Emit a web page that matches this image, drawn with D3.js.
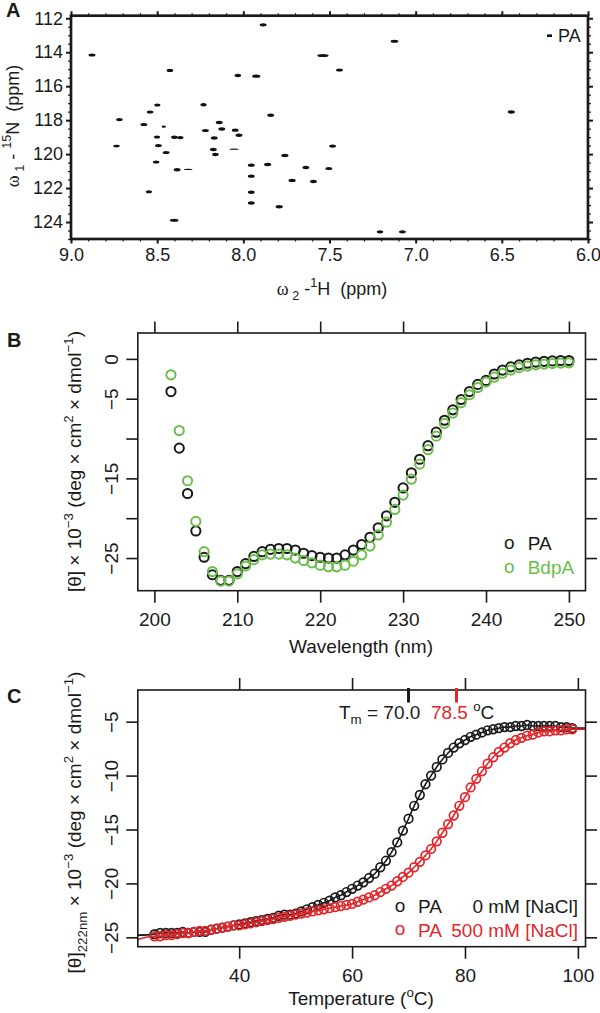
<!DOCTYPE html>
<html>
<head>
<meta charset="utf-8">
<script src="https://cdn.jsdelivr.net/npm/d3@7"></script>
<style>
  body { margin: 0; background: #fff; }
  svg { display: block; font-family: "Liberation Sans", Arial, sans-serif; }
  text { white-space: pre; }
</style>
</head>
<body>
<svg id="chart" width="600" height="1013"></svg>
<script>
// ---- panel A: HSQC peak list (1H ppm, 15N ppm, linewidths in ppm)
const peakH = [8.878, 7.885, 7.123, 7.538, 8.426, 7.442, 8.032, 7.925, 6.445, 8.499,
               8.231, 8.541, 8.719, 8.577, 8.462, 7.841, 8.140, 8.125, 8.220, 8.047,
               8.025, 8.501, 8.400, 8.366, 8.169, 8.736, 8.493, 8.174, 8.054, 8.162,
               8.448, 7.482, 7.759, 8.506, 7.954, 7.859, 8.384, 8.320, 7.637, 7.504,
               7.954, 7.717, 7.593, 8.548, 7.954, 7.954, 7.792, 8.401, 7.207, 7.077];
const peakN = [114.17, 112.39, 113.35, 114.19, 115.07, 115.05, 115.37, 115.41, 117.52, 117.11,
               117.09, 117.52, 117.97, 118.26, 118.38, 117.71, 118.14, 118.52, 118.61, 118.59,
               118.89, 118.99, 119.01, 119.03, 119.05, 119.53, 119.50, 119.73, 119.71, 120.02,
               119.91, 119.53, 120.08, 120.47, 120.65, 120.61, 120.92, 120.90, 120.79, 120.85,
               121.30, 121.55, 121.61, 122.22, 122.25, 122.88, 123.10, 123.90, 124.58, 124.58];
const widthH = [0.040, 0.040, 0.045, 0.065, 0.038, 0.040, 0.038, 0.048, 0.042, 0.035,
                0.036, 0.038, 0.038, 0.040, 0.025, 0.040, 0.040, 0.040, 0.040, 0.040,
                0.040, 0.035, 0.038, 0.038, 0.040, 0.038, 0.040, 0.040, 0.055, 0.038,
                0.040, 0.040, 0.042, 0.038, 0.040, 0.042, 0.040, 0.050, 0.040, 0.040,
                0.040, 0.042, 0.040, 0.035, 0.040, 0.040, 0.042, 0.050, 0.038, 0.040];
const widthN = [0.18, 0.18, 0.18, 0.18, 0.18, 0.18, 0.2, 0.2, 0.2, 0.18,
                0.2, 0.18, 0.2, 0.18, 0.14, 0.2, 0.2, 0.2, 0.18, 0.2,
                0.2, 0.18, 0.2, 0.2, 0.2, 0.16, 0.18, 0.2, 0.08, 0.2,
                0.18, 0.2, 0.2, 0.18, 0.2, 0.2, 0.2, 0.08, 0.2, 0.18,
                0.2, 0.2, 0.2, 0.18, 0.2, 0.2, 0.2, 0.18, 0.2, 0.2];
const ticksH = [9.0, 8.5, 8.0, 7.5, 7.0, 6.5, 6.0];
const ticksN = [112, 114, 116, 118, 120, 122, 124];

// ---- panel B: far-UV CD spectra
const wavelength = [202, 203, 204, 205, 206, 207, 208, 209, 210, 211, 212, 213, 214, 215, 216, 217,
                    218, 219, 220, 221, 222, 223, 224, 225, 226, 227, 228, 229, 230, 231, 232, 233,
                    234, 235, 236, 237, 238, 239, 240, 241, 242, 243, 244, 245, 246, 247, 248, 249, 250];
const cdPA = [-4.1, -11.2, -16.9, -21.6, -24.9, -27.1, -27.8, -27.8, -26.7, -25.7, -24.8, -24.2,
              -23.9, -23.8, -23.8, -24.0, -24.4, -24.7, -24.9, -25.0, -25.0, -24.6, -24.0, -23.3,
              -22.4, -21.2, -19.7, -18.0, -16.2, -14.3, -12.6, -10.9, -9.2, -7.7, -6.4, -5.1,
              -4.1, -3.2, -2.7, -1.9, -1.4, -1.0, -0.75, -0.55, -0.4, -0.3, -0.25, -0.2, -0.2];
const cdBdpA = [-2.0, -9.0, -15.3, -20.4, -24.2, -26.7, -27.9, -27.9, -27.0, -26.0, -25.2, -24.6,
                -24.5, -24.5, -24.6, -25.0, -25.3, -25.6, -25.9, -26.1, -26.1, -25.9, -25.4, -24.6,
                -23.5, -22.1, -20.5, -18.9, -17.1, -15.1, -13.2, -11.4, -9.7, -8.1, -6.8, -5.5,
                -4.5, -3.6, -2.9, -2.3, -1.8, -1.4, -1.1, -0.9, -0.75, -0.65, -0.58, -0.52, -0.5];
const wlTicks = [200, 210, 220, 230, 240, 250];
const cdTicks = [0, -5, -10, -15, -20, -25];
const cdLabels = [0, -5, -15, -25];

// ---- panel C: thermal melts at 222 nm
const temperature = [25, 26, 27, 28, 29, 30, 31, 32, 33, 34, 35, 36, 37, 38, 39, 40, 41, 42, 43, 44,
                     45, 46, 47, 48, 49, 50, 51, 52, 53, 54, 55, 56, 57, 58, 59, 60, 61, 62, 63, 64,
                     65, 66, 67, 68, 69, 70, 71, 72, 73, 74, 75, 76, 77, 78, 79, 80, 81, 82, 83, 84,
                     85, 86, 87, 88, 89, 90, 91, 92, 93, 94, 95, 96, 97, 98, 99];
const meltPA = [-24.7, -24.6, -24.6, -24.6, -24.6, -24.5, -24.6, -24.5, -24.5, -24.5,
                -24.3, -24.2, -24.1, -24.0, -23.9, -23.8, -23.7, -23.6, -23.5, -23.4,
                -23.3, -23.2, -23.0, -22.9, -22.9, -22.8, -22.6, -22.4, -22.2, -22.0,
                -21.8, -21.6, -21.3, -21.1, -20.8, -20.5, -20.2, -19.9, -19.5, -19.1,
                -18.5, -17.9, -17.1, -16.2, -15.1, -14.0, -12.8, -11.8, -10.8, -10.0,
                -9.2, -8.5, -7.9, -7.4, -7.0, -6.7, -6.4, -6.2, -6.0, -5.8,
                -5.7, -5.6, -5.5, -5.5, -5.4, -5.4, -5.3, -5.4, -5.4, -5.4,
                -5.4, -5.4, -5.5, -5.5, -5.6];
const meltSalt = [-24.9, -24.9, -24.8, -24.8, -24.7, -24.6, -24.6, -24.5, -24.4, -24.4,
                  -24.3, -24.2, -24.1, -24.0, -23.9, -23.9, -23.8, -23.7, -23.6, -23.5,
                  -23.4, -23.3, -23.2, -23.1, -23.0, -22.9, -22.8, -22.7, -22.6, -22.5,
                  -22.4, -22.3, -22.2, -22.1, -22.0, -21.9, -21.7, -21.5, -21.3, -21.1,
                  -20.8, -20.5, -20.2, -19.8, -19.4, -19.0, -18.5, -18.0, -17.4, -16.8,
                  -16.1, -15.3, -14.5, -13.7, -12.8, -12.0, -11.1, -10.3, -9.6, -8.9,
                  -8.3, -7.8, -7.4, -7.0, -6.7, -6.5, -6.3, -6.2, -6.0, -5.9,
                  -5.9, -5.8, -5.8, -5.7, -5.7];
// fitted curves reach the frame edges
const fitEndT = [22.04, 101.35];
const fitEndPA = [-24.8, -5.6];
const fitEndSalt = [-25.2, -5.7];
const tm = [70.0, 78.5];
const tempTicks = [40, 60, 80, 100];
const meltTicks = [-5, -10, -15, -20, -25];

const ink = '#1a1a1a';
const green = '#6cbd4b';
const red = '#e3262b';
const fmt = d3.format('d');

const svg = d3.select('#chart');

function frame(g, x, y, w) {
    const [x0, x1] = x.range();
    const [y0, y1] = y.range();
    g.append('rect')
        .attr('x', Math.min(x0, x1)).attr('y', Math.min(y0, y1))
        .attr('width', Math.abs(x1 - x0)).attr('height', Math.abs(y1 - y0))
        .attr('fill', 'none').attr('stroke', ink).attr('stroke-width', w);
}

function axisAt(g, axis, tx, ty, size, sw) {
    const a = g.append('g').attr('transform', `translate(${tx},${ty})`).call(axis);
    a.select('.domain').remove();
    a.attr('font-family', null).attr('font-size', size);
    a.selectAll('.tick line').attr('stroke', ink).attr('stroke-width', sw);
    a.selectAll('.tick text').attr('fill', ink);
    return a;
}

// parts: [{t, sup, sub, fill, font}]
function rich(sel, parts, size) {
    let shift = 0;
    parts.forEach((p) => {
        const target = p.sup ? -0.42 * size : p.sub ? 0.3 * size : 0;
        const ts = sel.append('tspan').text(p.t).attr('dy', target - shift);
        if (p.sup || p.sub) ts.attr('font-size', size * 0.7);
        if (p.fill) ts.attr('fill', p.fill);
        if (p.font) ts.attr('font-family', p.font);
        shift = target;
    });
}

function leftLabelsRotated(a, offset) {
    a.selectAll('.tick text')
        .attr('transform', 'rotate(-90)')
        .attr('x', 0).attr('y', -offset).attr('dy', 0)
        .attr('text-anchor', 'middle');
}

// ================= Panel A =================
{
    const x = d3.scaleLinear().domain([9.0, 6.0]).range([71, 588]);
    const y = d3.scaleLinear().domain([111.85, 125]).range([15.7, 239]);
    const g = svg.append('g');
    const [, yb] = y.range();
    const minorH = x.ticks(30);
    const minorN = y.ticks(26);

    axisAt(g, d3.axisBottom(x).tickValues(minorH).tickSize(2.5).tickFormat(''), 0, yb, 18, 1.2);
    axisAt(g, d3.axisTop(x).tickValues(minorH).tickSize(2.5).tickFormat(''), 0, 15.7, 18, 1.2);
    axisAt(g, d3.axisLeft(y).tickValues(minorN).tickSize(3).tickFormat(''), 71, 0, 18, 1.2);
    axisAt(g, d3.axisRight(y).tickValues(minorN).tickSize(3).tickFormat(''), 588, 0, 18, 1.2);
    axisAt(g, d3.axisBottom(x).tickValues(ticksH).tickSize(4.5).tickPadding(5).tickFormat(d3.format('.1f')), 0, yb, 18, 2);
    axisAt(g, d3.axisTop(x).tickValues(ticksH).tickSize(4.5).tickFormat(''), 0, 15.7, 18, 2);
    axisAt(g, d3.axisLeft(y).tickValues(ticksN).tickSize(5).tickPadding(3).tickFormat(fmt), 71, 0, 18, 2);
    axisAt(g, d3.axisRight(y).tickValues(ticksN).tickSize(5).tickFormat(''), 588, 0, 18, 2);

    g.append('g').selectAll('ellipse')
        .data(peakH.map((h, i) => ({ h, n: peakN[i], wh: widthH[i], wn: widthN[i] })))
        .join('ellipse')
        .attr('cx', (d) => x(d.h))
        .attr('cy', (d) => y(d.n))
        .attr('rx', (d) => Math.abs(x(d.h + d.wh / 2) - x(d.h)))
        .attr('ry', (d) => Math.abs(y(d.n + d.wn / 2) - y(d.n)))
        .attr('fill', '#111');

    frame(g, x, y, 2.7);

    g.append('rect').attr('x', 547).attr('y', 34.4).attr('width', 5).attr('height', 2.6).attr('fill', '#111');
    g.append('text').attr('x', 558).attr('y', 42.3).attr('font-size', 18).attr('fill', ink).text('PA');

    const xt = g.append('text').attr('x', 332).attr('y', 295).attr('font-size', 18)
        .attr('text-anchor', 'middle').attr('fill', ink);
    rich(xt, [{ t: 'ω', font: '"Liberation Serif", serif' }, { t: ' 2', sub: true }, { t: ' -' },
              { t: '1', sup: true }, { t: 'H  (ppm)' }], 18);

    const yt = g.append('text').attr('transform', 'translate(19,126) rotate(-90)').attr('font-size', 18)
        .attr('text-anchor', 'middle').attr('fill', ink);
    rich(yt, [{ t: 'ω', font: '"Liberation Serif", serif' }, { t: ' 1', sub: true }, { t: ' - ' },
              { t: '15', sup: true }, { t: 'N  (ppm)' }], 18);

    g.append('text').attr('x', 6).attr('y', 17).attr('font-size', 20).attr('font-weight', 'bold')
        .attr('fill', ink).text('A');
}

// ================= Panel B =================
{
    const x = d3.scaleLinear().domain([198, 252]).range([137.8, 585.5]);
    const y = d3.scaleLinear().domain([-29.1, 3.25]).range([590.7, 333]);
    const g = svg.append('g');
    const fs = 19;

    axisAt(g, d3.axisBottom(x).tickValues(wlTicks).tickSize(12).tickPadding(10).tickFormat(fmt), 0, 590.7, fs, 1.6);
    axisAt(g, d3.axisTop(x).tickValues(wlTicks).tickSize(11.5).tickFormat(''), 0, 333, fs, 1.6);
    const left = axisAt(g, d3.axisLeft(y).tickValues(cdTicks).tickSize(11.5)
        .tickFormat((d) => (cdLabels.includes(d) ? d3.format('d')(d) : '')), 137.8, 0, fs, 1.6);
    leftLabelsRotated(left, 19.5);
    axisAt(g, d3.axisRight(y).tickValues(cdTicks).tickSize(11.5).tickFormat(''), 585.5, 0, fs, 1.6);

    const series = [
        { vals: cdPA, color: ink },
        { vals: cdBdpA, color: green }
    ];
    series.forEach((s) => {
        g.append('g').selectAll('circle')
            .data(wavelength.map((w, i) => [w, s.vals[i]]))
            .join('circle')
            .attr('cx', (d) => x(d[0]))
            .attr('cy', (d) => y(d[1]))
            .attr('r', 4.6)
            .attr('fill', 'none')
            .attr('stroke', s.color)
            .attr('stroke-width', 2);
    });

    frame(g, x, y, 1.6);

    const leg = [{ label: 'PA', color: ink, yb: 550 }, { label: 'BdpA', color: green, yb: 574 }];
    leg.forEach((l) => {
        g.append('text').attr('x', 509.3).attr('y', l.yb - 1.5).attr('text-anchor', 'middle')
            .attr('font-size', fs).attr('fill', l.color).text('o');
        g.append('text').attr('x', 527.7).attr('y', l.yb).attr('font-size', fs).attr('fill', l.color).text(l.label);
    });

    g.append('text').attr('x', 361).attr('y', 653).attr('font-size', fs).attr('text-anchor', 'middle')
        .attr('fill', ink).text('Wavelength (nm)');

    const yt = g.append('text').attr('transform', 'translate(81,461.5) rotate(-90)').attr('font-size', fs)
        .attr('text-anchor', 'middle').attr('fill', ink);
    rich(yt, [{ t: '[θ] × 10' }, { t: '−3', sup: true }, { t: ' (deg × cm' }, { t: '2', sup: true },
              { t: ' × dmol' }, { t: '−1', sup: true }, { t: ')' }], fs);

    g.append('text').attr('x', 7).attr('y', 347).attr('font-size', 20).attr('font-weight', 'bold')
        .attr('fill', ink).text('B');
}

// ================= Panel C =================
{
    const x = d3.scaleLinear().domain([22.04, 101.35]).range([137.8, 585.5]);
    const y = d3.scaleLinear().domain([-25.87, -2.06]).range([946.7, 690]);
    const g = svg.append('g');
    const fs = 19;

    axisAt(g, d3.axisBottom(x).tickValues(tempTicks).tickSize(12).tickPadding(10).tickFormat(fmt), 0, 946.7, fs, 1.6);
    axisAt(g, d3.axisTop(x).tickValues(tempTicks).tickSize(12).tickFormat(''), 0, 690, fs, 1.6);
    const left = axisAt(g, d3.axisLeft(y).tickValues(meltTicks).tickSize(11.5).tickFormat(d3.format('d')), 137.8, 0, fs, 1.6);
    leftLabelsRotated(left, 19.5);
    axisAt(g, d3.axisRight(y).tickValues(meltTicks).tickSize(11.5).tickFormat(''), 585.5, 0, fs, 1.6);

    const line = d3.line().x((d) => x(d[0])).y((d) => y(d[1])).curve(d3.curveMonotoneX);
    const series = [
        { vals: meltPA, ends: fitEndPA, color: ink },
        { vals: meltSalt, ends: fitEndSalt, color: red }
    ];
    series.forEach((s) => {
        const pts = temperature.map((t, i) => [t, s.vals[i]]);
        g.append('path')
            .attr('d', line([[fitEndT[0], s.ends[0]], ...pts, [fitEndT[1], s.ends[1]]]))
            .attr('fill', 'none').attr('stroke', s.color).attr('stroke-width', 1.6);
        g.append('g').selectAll('circle')
            .data(pts)
            .join('circle')
            .attr('cx', (d) => x(d[0]))
            .attr('cy', (d) => y(d[1]))
            .attr('r', 4.3)
            .attr('fill', 'none')
            .attr('stroke', s.color)
            .attr('stroke-width', 1.7);
    });

    frame(g, x, y, 1.6);

    // Tm markers on the top edge
    g.append('g').selectAll('line')
        .data(tm)
        .join('line')
        .attr('x1', (d) => x(d)).attr('x2', (d) => x(d))
        .attr('y1', 688).attr('y2', 702.5)
        .attr('stroke', (d, i) => (i === 0 ? ink : red))
        .attr('stroke-width', 3);

    const tmText = g.append('text').attr('x', 339).attr('y', 718.5).attr('font-size', fs).attr('fill', ink);
    rich(tmText, [{ t: 'T' }, { t: 'm', sub: true }, { t: ' = ' + tm[0].toFixed(1) + '  ' },
                  { t: tm[1].toFixed(1), fill: red }, { t: ' ' }, { t: 'o', sup: true }, { t: 'C' }], fs);

    const leg = [
        { left: 'PA', right: '0 mM [NaCl]', color: ink, yb: 913.3 },
        { left: 'PA', right: '500 mM [NaCl]', color: red, yb: 936.7 }
    ];
    leg.forEach((l) => {
        g.append('text').attr('x', 400).attr('y', l.yb - 1.5).attr('text-anchor', 'middle')
            .attr('font-size', fs).attr('fill', l.color).text('o');
        g.append('text').attr('x', 418).attr('y', l.yb).attr('font-size', fs).attr('fill', l.color).text(l.left);
        g.append('text').attr('x', 578).attr('y', l.yb).attr('font-size', fs).attr('text-anchor', 'end')
            .attr('fill', l.color).text(l.right);
    });

    const xt = g.append('text').attr('x', 361).attr('y', 1004.5).attr('font-size', fs)
        .attr('text-anchor', 'middle').attr('fill', ink);
    rich(xt, [{ t: 'Temperature (' }, { t: 'o', sup: true }, { t: 'C)' }], fs);

    const yt = g.append('text').attr('transform', 'translate(81,822.5) rotate(-90)').attr('font-size', fs)
        .attr('text-anchor', 'middle').attr('fill', ink);
    rich(yt, [{ t: '[θ]' }, { t: '222nm', sub: true }, { t: ' × 10' }, { t: '−3', sup: true },
              { t: ' (deg × cm' }, { t: '2', sup: true }, { t: ' × dmol' }, { t: '−1', sup: true }, { t: ')' }], fs);

    g.append('text').attr('x', 7).attr('y', 703).attr('font-size', 20).attr('font-weight', 'bold')
        .attr('fill', ink).text('C');
}
</script>
</body>
</html>
